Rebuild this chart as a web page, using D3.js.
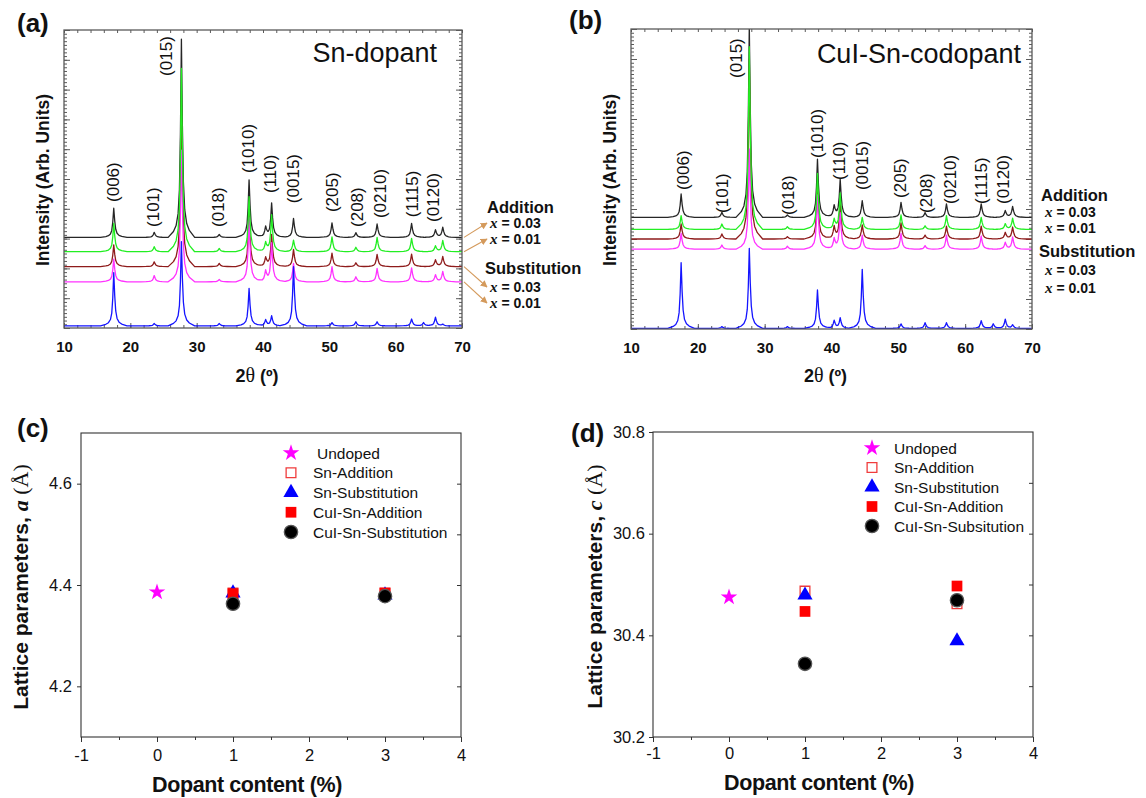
<!DOCTYPE html>
<html><head><meta charset="utf-8">
<script src="https://cdn.jsdelivr.net/npm/d3@7"></script>
<style>body{margin:0;background:#fff}</style>
</head><body>
<svg id="fig" width="1146" height="798"></svg>
<script>
// ---------------- DATA ----------------
// XRD: peak positions (2θ, degrees) shared by all patterns
const peakTwoTheta = [17.5, 23.6, 27.7, 33.4, 37.9, 40.4, 41.3, 44.6, 50.4, 54.0, 57.2, 62.4, 64.2, 66.0, 67.1];
const twoThetaTicks = [10, 20, 30, 40, 50, 60, 70];
const xrdSeriesNames = ["Addition x = 0.03", "Addition x = 0.01", "Substitution x = 0.03", "Substitution x = 0.01", "Undoped reference"];

// Panel (a) Sn-dopant: baseline and peak-top intensity (arb. units, 0-100 of frame height)
const snBaselines = [30.4, 25.6, 20.6, 15.5, 0.7];
const snAdd003 = [40.2, 32.1, 96.9, 31.4, 49.7, 33.7, 41.8, 36.8, 35.3, 32.0, 34.9, 35.1, 30.4, 32.9, 33.7];
const snAdd001 = [35.1, 27.3, 87.1, 26.7, 44.1, 28.4, 37.9, 29.5, 30.6, 27.1, 30.4, 30.1, 25.6, 27.5, 29.3];
const snSub003 = [27.9, 22.2, 76.5, 21.7, 38.5, 23.4, 31.2, 26.4, 25.1, 21.9, 24.7, 24.8, 20.6, 22.8, 23.9];
const snSub001 = [23.1, 17.6, 59.7, 16.3, 37.0, 18.9, 28.4, 21.7, 20.6, 17.2, 20.0, 20.2, 15.5, 17.8, 18.9];
const snRef    = [18.6, 1.5, 29.0, 1.5, 13.3, 2.7, 4.0, 20.6, 1.8, 2.1, 2.1, 3.0, 1.8, 3.6, 1.2];

// Panel (b) CuI-Sn-codopant
const cuBaselines = [37.2, 33.2, 30.0, 26.6, 0.2];
const cuAdd003 = [45.0, 38.9, 101, 38.0, 56.6, 40.8, 49.7, 42.8, 42.2, 38.8, 41.7, 41.7, 37.2, 39.4, 40.8];
const cuAdd001 = [37.8, 35.0, 94.1, 34.1, 51.9, 36.3, 45.2, 37.2, 38.0, 34.4, 37.8, 37.2, 33.2, 35.0, 36.9];
const cuSub003 = [35.0, 31.7, 90.0, 30.8, 47.4, 33.9, 41.9, 34.7, 35.4, 31.3, 34.3, 34.3, 30.0, 32.1, 33.9];
const cuSub001 = [31.9, 28.0, 60.0, 27.6, 44.7, 29.9, 38.6, 31.3, 31.9, 27.8, 31.3, 31.0, 26.6, 28.8, 30.6];
const cuRef    = [22.1, 0.8, 26.9, 0.8, 13.0, 2.8, 3.6, 19.9, 1.7, 2.1, 2.1, 2.8, 1.7, 3.2, 1.3];

// Miller-index labels: anchor 2θ and level (intensity at text start)
const hklLabels = ["(006)", "(101)", "(015)", "(018)", "(1010)", "(110)", "(0015)", "(205)", "(208)", "(0210)", "(1115)", "(0120)"];
const snHklTheta = [17.4, 23.4, 25.4, 33.2, 37.7, 41.1, 44.5, 50.4, 54.2, 57.6, 62.5, 65.6];
const snHklLevel = [42.3, 33.9, 84.6, 33.9, 52.0, 45.3, 41.9, 38.9, 33.9, 36.9, 37.2, 35.6];
const cuHklTheta = [17.8, 23.6, 25.7, 33.5, 37.8, 41.1, 44.6, 50.3, 54.1, 57.7, 62.4, 65.7];
const cuHklLevel = [46.3, 38.7, 83.7, 38.0, 57.0, 49.7, 46.3, 43.7, 38.7, 41.7, 41.7, 41.7];

const rightGroupTitles = ["Addition", "Substitution"];
const rightGroupValues = ["0.03", "0.01"];

// Lattice parameters
const dopantTicks = [-1, 0, 1, 2, 3, 4];
const latticeNames = ["Undoped", "Sn-Addition", "Sn-Substitution", "CuI-Sn-Addition", "CuI-Sn-Substitution"];
const latticeNamesD = ["Undoped", "Sn-Addition", "Sn-Substitution", "CuI-Sn-Addition", "CuI-Sn-Subsitution"];
const undopedX = [0];
const dopedX = [1, 3];
const aUndoped = [4.386];
const aSnAdd = [4.384, 4.384];
const aSnSub = [4.384, 4.380];
const aCuAdd = [4.383, 4.384];
const aCuSub = [4.363, 4.378];
const cUndoped = [30.475];
const cSnAdd = [30.487, 30.462];
const cSnSub = [30.479, 30.389];
const cCuAdd = [30.447, 30.497];
const cCuSub = [30.344, 30.469];
const aTicks = [4.2, 4.4, 4.6];
const cTicks = [30.2, 30.4, 30.6, 30.8];

// ---------------- STYLE ----------------
const SANS = "'Liberation Sans', Arial, Helvetica, sans-serif";
const SERIF = "'Liberation Serif', 'Times New Roman', serif";
const xrdColors = ["#262626", "#22ee22", "#8e1b1b", "#ff33ff", "#1515ff"];
const drawOrder = [0, 2, 3, 1, 4];
// Peak shape (offset in degrees, fraction of height)
const PROFILE = [[-2.0, 0], [-1.2, 0.03], [-0.8, 0.06], [-0.5, 0.12], [-0.3, 0.24], [-0.15, 0.52], [0, 1],
                 [0.15, 0.56], [0.3, 0.28], [0.5, 0.14], [0.8, 0.07], [1.2, 0.035], [2.0, 0]];

const svg = d3.select("#fig");
const defs = svg.append("defs");
defs.append("marker").attr("id", "arrowHead").attr("viewBox", "0 0 10 10").attr("refX", 9).attr("refY", 5)
  .attr("markerWidth", 7).attr("markerHeight", 7).attr("orient", "auto").attr("markerUnits", "userSpaceOnUse")
  .append("path").attr("d", "M0,0 L10,5 L0,10 z").attr("fill", "#d49a5c");

function prof(d) {
  const n = PROFILE.length;
  if (d <= PROFILE[0][0] || d >= PROFILE[n - 1][0]) return 0;
  for (let k = 1; k < n; k++) {
    if (d <= PROFILE[k][0]) {
      const [x0, y0] = PROFILE[k - 1], [x1, y1] = PROFILE[k];
      return y0 + (y1 - y0) * (d - x0) / (x1 - x0);
    }
  }
  return 0;
}
function curvePoints(base, tops) {
  const xs = new Set([10, 70]);
  peakTwoTheta.forEach(p => PROFILE.forEach(([o]) => {
    const v = +(p + o).toFixed(3);
    if (v > 10 && v < 70) xs.add(v);
  }));
  const arr = Array.from(xs).sort((a, b) => a - b);
  return arr.map(t => [t, base + d3.sum(peakTwoTheta, (p, i) => (tops[i] - base) * prof(t - p))]);
}

function styleTicks(sel, color) {
  sel.select(".domain").remove();
  sel.selectAll(".tick line").attr("stroke", color).attr("stroke-width", 1);
}

function drawXRD(p) {
  const x = d3.scaleLinear().domain([10, 70]).range([p.left, p.right]);
  const y = d3.scaleLinear().domain([0, 100]).range([p.bottom, p.top]);
  const g = svg.append("g");
  const clipId = "clip" + p.id;
  defs.append("clipPath").attr("id", clipId).append("rect")
    .attr("x", p.left).attr("y", p.top).attr("width", p.right - p.left).attr("height", p.bottom - p.top);

  const fc = "#5a5a5a";
  // ticks (inward)
  g.append("g").attr("transform", `translate(0,${p.bottom})`)
    .call(d3.axisBottom(x).tickValues(d3.range(10, 70.01, 2)).tickSize(-3).tickSizeOuter(0).tickFormat(""))
    .call(s => styleTicks(s, fc));
  g.append("g").attr("transform", `translate(0,${p.top})`)
    .call(d3.axisTop(x).tickValues(d3.range(10, 70.01, 2)).tickSize(-3).tickSizeOuter(0).tickFormat(""))
    .call(s => styleTicks(s, fc));
  [[d3.axisLeft, p.left], [d3.axisRight, p.right]].forEach(([ax, pos]) => {
    g.append("g").attr("transform", `translate(${pos},0)`)
      .call(ax(y).tickValues(d3.range(0, 100.01, 1.25)).tickSize(-3).tickSizeOuter(0).tickFormat(""))
      .call(s => styleTicks(s, fc));
    g.append("g").attr("transform", `translate(${pos},0)`)
      .call(ax(y).tickValues(d3.range(0, 100.01, 10)).tickSize(-6).tickSizeOuter(0).tickFormat(""))
      .call(s => styleTicks(s, fc));
  });
  // labelled bottom axis
  g.append("g").attr("transform", `translate(0,${p.bottom})`)
    .call(d3.axisBottom(x).tickValues(twoThetaTicks).tickSize(-5).tickSizeOuter(0).tickPadding(13).tickFormat(d3.format("d")))
    .call(s => styleTicks(s, fc))
    .call(s => s.selectAll("text").attr("font-family", SANS).attr("font-size", 15).attr("font-weight", "bold").attr("fill", "#111"));

  // patterns
  const line = d3.line().x(d => x(d[0])).y(d => y(d[1]));
  drawOrder.forEach(i => {
    g.append("path").attr("d", line(curvePoints(p.bases[i], p.series[i])))
      .attr("clip-path", `url(#${clipId})`)
      .attr("fill", "none").attr("stroke", xrdColors[i]).attr("stroke-width", 1.3).attr("stroke-linejoin", "round");
  });

  // frame
  g.append("rect").attr("x", p.left).attr("y", p.top).attr("width", p.right - p.left).attr("height", p.bottom - p.top)
    .attr("fill", "none").attr("stroke", fc).attr("stroke-width", 1.3);

  // hkl labels
  hklLabels.forEach((lab, i) => {
    g.append("text").attr("transform", `translate(${x(p.hklTheta[i])},${y(p.hklLevel[i])}) rotate(-90)`)
      .attr("dy", "0.35em").attr("font-family", SANS).attr("font-size", 17).attr("fill", "#111").text(lab);
  });

  // title
  g.append("text").attr("x", p.titleX).attr("y", p.titleY).attr("text-anchor", "end")
    .attr("font-family", SANS).attr("font-size", 27).attr("fill", "#111").text(p.title);

  // axis labels
  g.append("text").attr("transform", `translate(${p.left - 21},${(p.top + p.bottom) / 2 + 1}) rotate(-90)`)
    .attr("text-anchor", "middle").attr("dy", "0.35em")
    .attr("font-family", SANS).attr("font-size", 17.5).attr("font-weight", "bold").attr("fill", "#111")
    .text("Intensity (Arb. Units)");
  const xl = g.append("text").attr("x", (p.left + p.right) / 2 - 6).attr("y", 382).attr("text-anchor", "middle")
    .attr("font-family", SANS).attr("font-size", 18).attr("font-weight", "bold").attr("fill", "#111");
  xl.append("tspan").text("2");
  xl.append("tspan").attr("font-family", SERIF).attr("font-weight", "normal").attr("font-size", 20).text("θ");
  xl.append("tspan").text(" (º)");

  // panel letter
  g.append("text").attr("x", p.letterX).attr("y", p.letterY).attr("font-family", SANS).attr("font-size", 26)
    .attr("font-weight", "bold").attr("fill", "#111").text(p.letter);

  // right-hand group labels
  const rl = p.rightLabels;
  rightGroupTitles.forEach((t, gi) => {
    g.append("text").attr("x", rl.titleX[gi]).attr("y", rl.titleY[gi]).attr("font-family", SANS)
      .attr("font-size", 16.5).attr("font-weight", "bold").attr("fill", "#111").text(t);
    rightGroupValues.forEach((v, vi) => {
      const tt = g.append("text").attr("x", rl.valX).attr("y", rl.valY[gi * 2 + vi])
        .attr("font-size", 14).attr("font-weight", "bold").attr("fill", "#111");
      tt.append("tspan").attr("font-family", SERIF).attr("font-style", "italic").attr("font-size", 15).text("x");
      tt.append("tspan").attr("font-family", SANS).text(" = " + v);
    });
  });
  if (p.arrows) {
    [0, 1, 2, 3].forEach(i => {
      g.append("line").attr("x1", x(70) + 2).attr("y1", y(p.bases[i]))
        .attr("x2", rl.valX - 3).attr("y2", rl.valY[i] - 5)
        .attr("stroke", "#d49a5c").attr("stroke-width", 1.1).attr("marker-end", "url(#arrowHead)");
    });
  }
}

drawXRD({
  id: "a", left: 64, right: 462, top: 30, bottom: 328,
  bases: snBaselines, series: [snAdd003, snAdd001, snSub003, snSub001, snRef],
  hklTheta: snHklTheta, hklLevel: snHklLevel,
  title: "Sn-dopant", titleX: 437, titleY: 62,
  letter: "(a)", letterX: 17, letterY: 32,
  rightLabels: { titleX: [487, 485], titleY: [213, 274], valX: 490, valY: [228, 244, 292, 308] },
  arrows: true
});
drawXRD({
  id: "b", left: 631, right: 1032, top: 29, bottom: 329,
  bases: cuBaselines, series: [cuAdd003, cuAdd001, cuSub003, cuSub001, cuRef],
  hklTheta: cuHklTheta, hklLevel: cuHklLevel,
  title: "CuI-Sn-codopant", titleX: 1021, titleY: 63,
  letter: "(b)", letterX: 569, letterY: 29,
  rightLabels: { titleX: [1041, 1039], titleY: [201, 257], valX: 1045, valY: [217, 233, 275, 293] },
  arrows: false
});

// ---------------- Lattice panels ----------------
const markerStyles = [
  { type: d3.symbolStar, size: 85, fill: "#ff00ff", stroke: "none" },
  { type: d3.symbolSquare, size: 95, fill: "none", stroke: "#f03c3c" },
  { type: d3.symbolTriangle, size: 100, fill: "#0000ff", stroke: "none" },
  { type: d3.symbolSquare, size: 115, fill: "#ff0000", stroke: "none" },
  { type: d3.symbolCircle, size: 140, fill: "#000", stroke: "#555" }
];

function drawLattice(p) {
  const x = d3.scaleLinear().domain([-1, 4]).range([p.left, p.right]);
  const y = d3.scaleLinear().domain(p.yDomain).range([p.bottom, p.top]);
  const g = svg.append("g");
  const fc = "#333";
  g.append("g").attr("transform", `translate(0,${p.bottom})`)
    .call(d3.axisBottom(x).tickValues(d3.range(-1, 4.01, 0.5)).tickSize(3).tickSizeOuter(0).tickFormat(""))
    .call(s => styleTicks(s, fc));
  g.append("g").attr("transform", `translate(0,${p.bottom})`)
    .call(d3.axisBottom(x).tickValues(dopantTicks).tickSize(5).tickSizeOuter(0).tickPadding(p.xPad).tickFormat(d => String(d)))
    .call(s => styleTicks(s, fc))
    .call(s => s.selectAll("text").attr("font-family", SANS).attr("font-size", 16.5).attr("fill", "#111"));
  g.append("g").attr("transform", `translate(${p.left},0)`)
    .call(d3.axisLeft(y).tickValues(p.yTicks).tickSize(4).tickSizeOuter(0).tickPadding(p.yPad).tickFormat(d3.format(".1f")))
    .call(s => styleTicks(s, fc))
    .call(s => s.selectAll("text").attr("font-family", SANS).attr("font-size", 16.5).attr("fill", "#111"));
  g.append("g").attr("transform", `translate(${p.right},0)`)
    .call(d3.axisRight(y).tickValues(p.rightTicks).tickSize(-4).tickSizeOuter(0).tickFormat(""))
    .call(s => styleTicks(s, fc));
  g.append("rect").attr("x", p.left).attr("y", p.top).attr("width", p.right - p.left).attr("height", p.bottom - p.top)
    .attr("fill", "none").attr("stroke", fc).attr("stroke-width", 1.1);

  // points
  p.series.forEach((s, i) => {
    const ms = markerStyles[i];
    const sym = d3.symbol().type(ms.type).size(ms.size);
    s.xs.forEach((xv, k) => {
      g.append("path").attr("d", sym()).attr("transform", `translate(${x(xv)},${y(s.ys[k])})`)
        .attr("fill", ms.fill).attr("stroke", ms.stroke).attr("stroke-width", ms.stroke === "none" ? 0 : 1.3);
    });
  });

  // legend
  const lg = g.append("g").attr("transform", `translate(${p.left},${p.top})`);
  p.names.forEach((nm, i) => {
    const ms = markerStyles[i];
    const yy = p.legend.y0 + i * p.legend.dy;
    lg.append("path").attr("d", d3.symbol().type(ms.type).size(ms.size)())
      .attr("transform", `translate(${p.legend.mx},${yy})`)
      .attr("fill", ms.fill).attr("stroke", ms.stroke).attr("stroke-width", ms.stroke === "none" ? 0 : 1.3);
    lg.append("text").attr("x", p.legend.tx + (i === 0 ? p.legend.firstShift : 0)).attr("y", yy).attr("dy", "0.36em")
      .attr("font-family", SANS).attr("font-size", 15.5).attr("fill", "#111").text(nm);
  });

  // axis labels
  const yl = g.append("text").attr("transform", `translate(${p.yLabelX},${(p.top + p.bottom) / 2 + 2}) rotate(-90)`)
    .attr("text-anchor", "middle").attr("dy", "0.35em").attr("font-size", 21).attr("fill", "#111");
  yl.append("tspan").attr("font-family", SANS).attr("font-weight", "bold").text("Lattice parameters, ");
  yl.append("tspan").attr("font-family", SERIF).attr("font-style", "italic").attr("font-weight", "bold").attr("font-size", 22).text(p.param);
  yl.append("tspan").attr("font-family", SERIF).attr("font-size", 22).text(" (Å)");
  g.append("text").attr("x", (p.left + p.right) / 2 - 24).attr("y", p.xLabelY).attr("text-anchor", "middle")
    .attr("font-family", SANS).attr("font-size", 21.5).attr("font-weight", "bold").attr("letter-spacing", -0.4).attr("fill", "#111")
    .text("Dopant content (%)");
  g.append("text").attr("x", p.letterX).attr("y", p.letterY).attr("font-family", SANS).attr("font-size", 26)
    .attr("font-weight", "bold").attr("fill", "#111").text(p.letter);
}

drawLattice({
  left: 81, right: 461, top: 433, bottom: 737, yDomain: [4.1, 4.7], yTicks: aTicks,
  rightTicks: [4.2, 4.3, 4.4, 4.5, 4.6], xPad: 7, yPad: 5,
  series: [{ xs: undopedX, ys: aUndoped }, { xs: dopedX, ys: aSnAdd }, { xs: dopedX, ys: aSnSub },
           { xs: dopedX, ys: aCuAdd }, { xs: dopedX, ys: aCuSub }],
  names: latticeNames,
  legend: { mx: 210, tx: 232, y0: 20, dy: 19.75, firstShift: 4 },
  param: "a", yLabelX: 21, xLabelY: 792, letter: "(c)", letterX: 17, letterY: 437
});
drawLattice({
  left: 653, right: 1033, top: 432, bottom: 737, yDomain: [30.2, 30.8], yTicks: cTicks,
  rightTicks: [30.3, 30.4, 30.5, 30.6, 30.7], xPad: 5, yPad: 4,
  series: [{ xs: undopedX, ys: cUndoped }, { xs: dopedX, ys: cSnAdd }, { xs: dopedX, ys: cSnSub },
           { xs: dopedX, ys: cCuAdd }, { xs: dopedX, ys: cCuSub }],
  names: latticeNamesD,
  legend: { mx: 219, tx: 241, y0: 16, dy: 19.5, firstShift: 0 },
  param: "c", yLabelX: 595, xLabelY: 790, letter: "(d)", letterX: 571, letterY: 442
});
</script>
</body></html>
